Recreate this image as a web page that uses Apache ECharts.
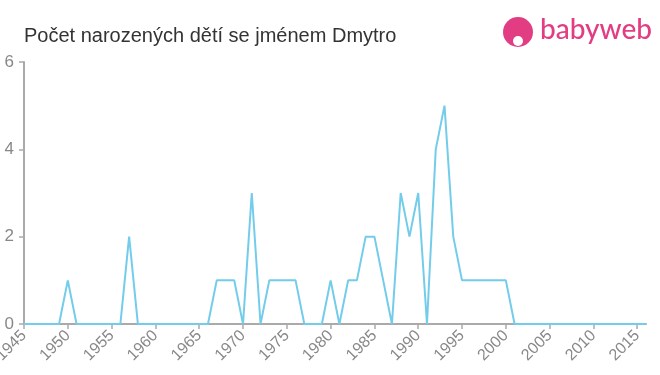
<!DOCTYPE html>
<html><head><meta charset="utf-8">
<script src="https://cdn.jsdelivr.net/npm/echarts@6/dist/echarts.min.js"></script>
<style>html,body{margin:0;padding:0;background:#fff}#c{width:660px;height:375px}</style>
</head><body><div id="c"></div>
<script>
const years = [];
for (let y = 1945; y <= 2016; y++) years.push(y);
const counts = [
  0,0,0,0,0, 1,0,0,0,0, 0,0,2,0,0, 0,0,0,0,0, // 1945-1964
  0,0,1,1,1, 0,3,0,1,1, 1,1,0,0,0, 1,0,1,1,2, // 1965-1984
  2,1,0,3,2, 3,0,4,5,2, 1,1,1,1,1, 1,0,0,0,0, // 1985-2004
  0,0,0,0,0, 0,0,0,0,0, 0,0                   // 2005-2016
];
const yTicks = [0, 2, 4, 6];
const titleText = "Počet narozených dětí se jménem Dmytro";
const logoText = "babyweb";

const chart = echarts.init(document.getElementById('c'));
chart.setOption({
  animation: false,
  title: {text: titleText, left: 19, top: 21, textStyle: {fontFamily: 'Liberation Sans, Arial, sans-serif', fontSize: 20, fontWeight: 'normal', color: '#333'}},
  graphic: [
    {type: 'circle', shape: {cx: 518, cy: 32, r: 15}, style: {fill: '#e23d83'}},
    {type: 'circle', shape: {cx: 518, cy: 41, r: 5}, style: {fill: '#fff'}},
    {type: 'text', left: 540, top: 16, style: {text: logoText, fill: '#e23d83', font: '500 28px Lato, Arial, sans-serif'}}
  ],
  grid: {left: 24, right: 14, top: 62, bottom: 51, containLabel: false, outerBoundsMode: 'none'},
  xAxis: {
    type: 'value', min: 1945, max: 2016, interval: 5,
    axisLine: {lineStyle: {color: '#aaa', width: 2}},
    axisTick: {show: true, length: 5, lineStyle: {color: '#aaa', width: 1.5}},
    splitLine: {show: false},
    axisLabel: {rotate: 45, color: '#888', fontSize: 16, fontFamily: 'Liberation Sans, Arial, sans-serif', showMaxLabel: false, showMinLabel: true, margin: 9, formatter: v => String(v)}
  },
  yAxis: {
    type: 'value', min: 0, max: 6, interval: 2,
    axisLine: {show: true, lineStyle: {color: '#aaa', width: 2}},
    axisTick: {show: true, length: 5, lineStyle: {color: '#aaa', width: 1.5}},
    splitLine: {show: false},
    axisLabel: {color: '#888', fontSize: 17, fontFamily: 'Liberation Sans, Arial, sans-serif', margin: 10}
  },
  series: [{
    type: 'line',
    data: years.map((y, i) => [y, counts[i]]),
    symbol: 'none',
    lineStyle: {color: '#74cceb', width: 2},
    itemStyle: {color: '#74cceb'}
  }]
});
</script></body></html>
